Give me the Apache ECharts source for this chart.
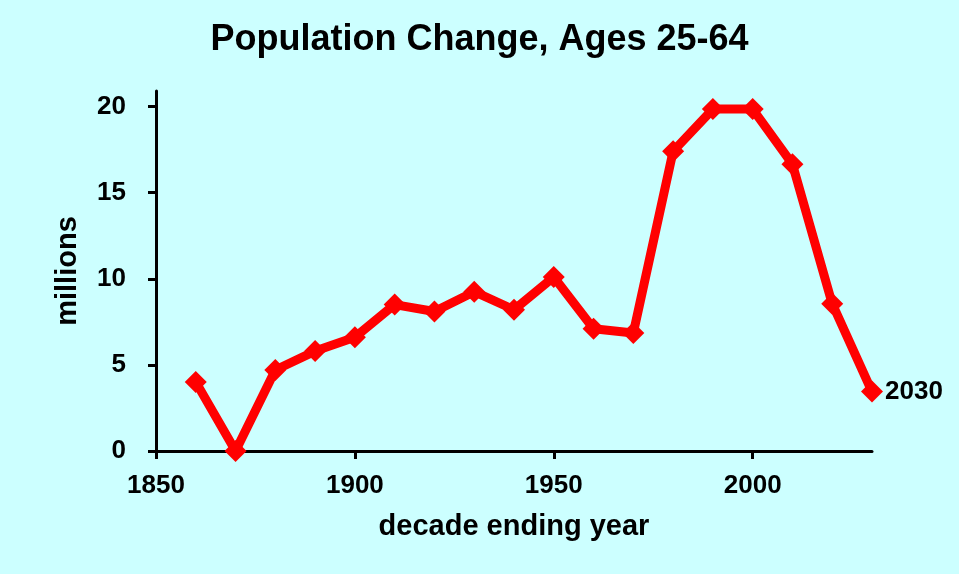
<!DOCTYPE html>
<html>
<head>
    <meta charset="utf-8">
    <title>Population Change, Ages 25-64</title>
    <script src="https://cdn.jsdelivr.net/npm/echarts@6/dist/echarts.min.js"></script>
    <style>
        html, body { margin: 0; padding: 0; background: #ccffff; }
        #chart { width: 959px; height: 574px; }
    </style>
</head>
<body>
<div id="chart"></div>
<script>
    // decade ending year
    var years = [1860, 1870, 1880, 1890, 1900, 1910, 1920, 1930, 1940, 1950,
                 1960, 1970, 1980, 1990, 2000, 2010, 2020, 2030];
    // change in population aged 25-64, millions
    var change = [4.0, 0.0, 4.7, 5.8, 6.6, 8.5, 8.1, 9.25, 8.2, 10.1,
                  7.1, 6.85, 17.4, 19.85, 19.85, 16.65, 8.55, 3.45];
    var xTicks = [1850, 1900, 1950, 2000];
    var yTicks = [0, 5, 10, 15, 20];

    var points = years.map(function (y, i) { return [y, change[i]]; });
    var font = '"Liberation Sans", Arial, sans-serif';

    var chart = echarts.init(document.getElementById('chart'));
    chart.setOption({
        backgroundColor: '#ccffff',
        animation: false,
        title: {
            text: 'Population Change, Ages 25-64',
            left: 'center',
            top: 17,
            textStyle: { fontFamily: font, fontSize: 36, fontWeight: 'bold', color: '#000' }
        },
        grid: { left: 156, right: 87, top: 91, bottom: 123 },
        xAxis: {
            type: 'value',
            min: 1850,
            max: 2030,
            name: 'decade ending year',
            nameLocation: 'middle',
            nameGap: 61,
            nameTextStyle: { fontFamily: font, fontSize: 29, fontWeight: 'bold', color: '#000' },
            axisLine: { lineStyle: { color: '#000', width: 3 } },
            axisTick: { show: true, inside: false, length: 8, customValues: xTicks, lineStyle: { color: '#000', width: 3 } },
            axisLabel: {
                margin: 22, customValues: xTicks,
                formatter: function (v) { return String(v); },
                fontFamily: font, fontSize: 26, fontWeight: 'bold', color: '#000'
            },
            splitLine: { show: false }
        },
        yAxis: {
            type: 'value',
            min: 0,
            max: 20.9,
            name: 'millions',
            nameLocation: 'middle',
            nameGap: 74,
            nameTextStyle: { fontFamily: font, fontSize: 29, fontWeight: 'bold', color: '#000' },
            axisLine: { show: true, lineStyle: { color: '#000', width: 3 } },
            axisTick: { show: true, length: 8, customValues: yTicks, lineStyle: { color: '#000', width: 3 } },
            axisLabel: { margin: 30, customValues: yTicks, fontFamily: font, fontSize: 26, fontWeight: 'bold', color: '#000' },
            splitLine: { show: false }
        },
        series: [{
            type: 'line',
            data: points,
            symbol: 'diamond',
            symbolSize: 22,
            lineStyle: { color: '#ff0000', width: 9 },
            itemStyle: { color: '#ff0000' },
            label: {
                show: true,
                position: 'right',
                distance: 2,
                fontFamily: font,
                fontSize: 26,
                fontWeight: 'bold',
                color: '#000',
                formatter: function (p) {
                    return p.dataIndex === years.length - 1 ? String(years[p.dataIndex]) : '';
                }
            },
            z: 3
        }]
    });
</script>
</body>
</html>
